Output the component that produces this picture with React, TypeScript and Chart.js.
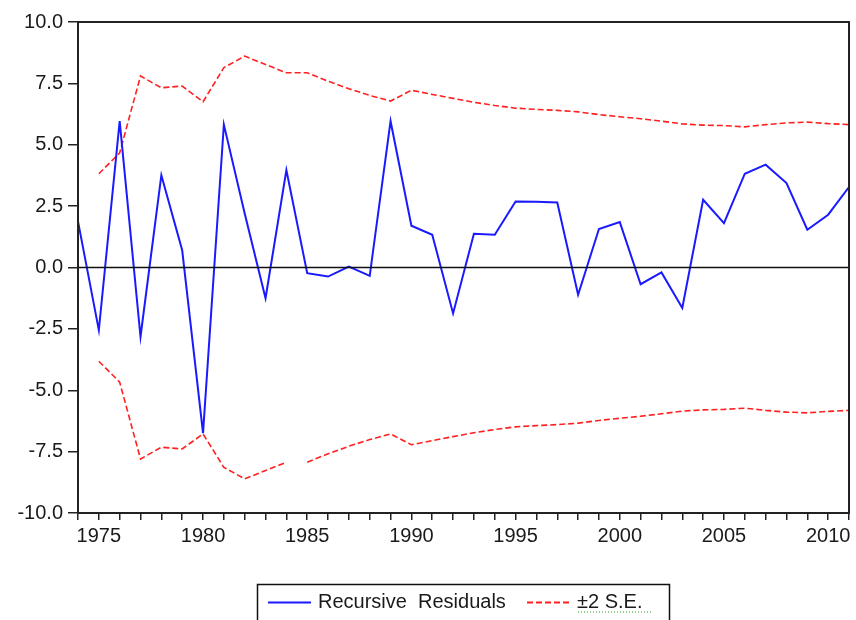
import React, { useEffect, useRef } from "react";
import { Chart, registerables } from "chart.js";

Chart.register(...registerables);

const years = [
  "1974", "1975", "1976", "1977", "1978", "1979", "1980", "1981", "1982", "1983",
  "1984", "1985", "1986", "1987", "1988", "1989", "1990", "1991", "1992", "1993",
  "1994", "1995", "1996", "1997", "1998", "1999", "2000", "2001", "2002", "2003",
  "2004", "2005", "2006", "2007", "2008", "2009", "2010", "2011",
];

const recursiveResiduals = [
  1.88, -2.55, 5.96, -2.82, 3.76, 0.7, -6.75, 5.82, 2.2, -1.25,
  3.97, -0.23, -0.37, 0.04, -0.34, 5.96, 1.7, 1.33, -1.87, 1.37,
  1.33, 2.69, 2.68, 2.65, -1.11, 1.57, 1.85, -0.68, -0.2, -1.65,
  2.76, 1.81, 3.82, 4.19, 3.44, 1.54, 2.15, 3.28,
];

const upperSE = [
  null, 3.82, 4.67, 7.8, 7.32, 7.39, 6.75, 8.14, 8.61, 8.27,
  7.93, 7.93, 7.59, 7.28, 7.01, 6.78, 7.22, 7.05, 6.89, 6.73,
  6.6, 6.49, 6.44, 6.4, 6.34, 6.23, 6.14, 6.06, 5.96, 5.85,
  5.8, 5.78, 5.73, 5.82, 5.89, 5.92, 5.86, 5.82,
];

const lowerSE = [
  null, -3.82, -4.67, -7.8, -7.32, -7.39, -6.78, -8.14, -8.61, -8.27,
  -7.93, -7.93, -7.59, -7.28, -7.01, -6.78, -7.22, -7.05, -6.89, -6.73,
  -6.6, -6.49, -6.44, -6.4, -6.34, -6.23, -6.14, -6.06, -5.96, -5.85,
  -5.8, -5.78, -5.73, -5.82, -5.89, -5.92, -5.86, -5.82,
];

const legendLabels = ["Recursive  Residuals", "\u00b12 S.E."];

const FONT = '"Liberation Sans", Arial, sans-serif';
const TEXT = "#1a1a1a";
const BLUE = "#1a1aff";
const RED = "#ff2020";

const framePlugin = {
  id: "framePlugin",
  afterDatasetsDraw(chart: any) {
    const { ctx, chartArea } = chart;
    const y0 = chart.scales.y.getPixelForValue(0);
    ctx.save();
    ctx.strokeStyle = "#111";
    ctx.lineWidth = 1.5;
    ctx.beginPath();
    ctx.moveTo(chartArea.left, y0);
    ctx.lineTo(chartArea.right, y0);
    ctx.stroke();
    ctx.strokeStyle = "#222";
    ctx.lineWidth = 2;
    ctx.strokeRect(chartArea.left, chartArea.top, chartArea.right - chartArea.left, chartArea.bottom - chartArea.top);
    ctx.restore();
  },
  afterDraw(chart: any) {
    const { ctx } = chart;
    ctx.save();
    ctx.strokeStyle = "#111";
    ctx.lineWidth = 1.5;
    ctx.strokeRect(257.5, 584.5, 412, 50);
    const yc = 602.5;
    ctx.lineWidth = 1.8;
    ctx.strokeStyle = BLUE;
    ctx.setLineDash([]);
    ctx.beginPath();
    ctx.moveTo(268, yc);
    ctx.lineTo(311, yc);
    ctx.stroke();
    ctx.strokeStyle = RED;
    ctx.setLineDash([6, 3]);
    ctx.beginPath();
    ctx.moveTo(527, yc);
    ctx.lineTo(570, yc);
    ctx.stroke();
    ctx.setLineDash([]);
    ctx.fillStyle = TEXT;
    ctx.font = `20px ${FONT}`;
    ctx.textBaseline = "middle";
    ctx.textAlign = "left";
    ctx.fillText(legendLabels[0], 318, yc);
    ctx.fillText(legendLabels[1], 577, yc);
    ctx.strokeStyle = "#2a9a2a";
    ctx.lineWidth = 1;
    ctx.setLineDash([1, 2]);
    ctx.beginPath();
    ctx.moveTo(578, 612);
    ctx.lineTo(652, 612);
    ctx.stroke();
    ctx.restore();
  },
};

export default function App() {
  const canvasRef = useRef<HTMLCanvasElement | null>(null);

  useEffect(() => {
    document.body.style.margin = "0";
    const canvas = canvasRef.current;
    if (!canvas) return;
    const chart = new Chart(canvas, {
      type: "line",
      data: {
        labels: years,
        datasets: [
          {
            label: legendLabels[0],
            data: recursiveResiduals,
            borderColor: BLUE,
            borderWidth: 2,
            pointRadius: 0,
            tension: 0,
          },
          {
            label: legendLabels[1],
            data: upperSE,
            borderColor: RED,
            borderWidth: 1.6,
            borderDash: [6, 3],
            pointRadius: 0,
            tension: 0,
          },
          {
            label: legendLabels[1] + " (lower)",
            data: lowerSE,
            borderColor: RED,
            borderWidth: 1.6,
            borderDash: [6, 3],
            pointRadius: 0,
            tension: 0,
            segment: {
              borderColor: (c: any) => (c.p0DataIndex === 10 ? "rgba(0,0,0,0)" : undefined),
            },
          },
        ],
      },
      options: {
        responsive: false,
        animation: false,
        layout: { padding: { left: 0, right: 7, top: 22, bottom: 67 } },
        plugins: {
          legend: { display: false },
          tooltip: { enabled: false },
        },
        scales: {
          x: {
            type: "category",
            offset: false,
            afterFit: (s: any) => {
              s.height = 40;
            },
            grid: {
              drawOnChartArea: false,
              drawTicks: true,
              tickLength: 7,
              tickColor: "#222",
              lineWidth: 1.5,
            },
            border: { display: false },
            ticks: {
              autoSkip: false,
              maxRotation: 0,
              padding: 4,
              color: TEXT,
              font: { family: FONT, size: 20 },
              callback: (_v: any, i: number) => {
                const y = Number(years[i]);
                return y % 5 === 0 ? years[i] : "";
              },
            },
          },
          y: {
            min: -10,
            max: 10,
            afterFit: (s: any) => {
              s.width = 78;
            },
            grid: {
              drawOnChartArea: false,
              drawTicks: true,
              tickLength: 10,
              tickColor: "#222",
              lineWidth: 1.5,
            },
            border: { display: false },
            ticks: {
              stepSize: 2.5,
              padding: 5,
              color: TEXT,
              font: { family: FONT, size: 20 },
              callback: (v: any) => Number(v).toFixed(1),
            },
          },
        },
      },
      plugins: [framePlugin],
    });
    return () => chart.destroy();
  }, []);

  return <canvas ref={canvasRef} width={856} height={620} style={{ display: "block" }} />;
}
